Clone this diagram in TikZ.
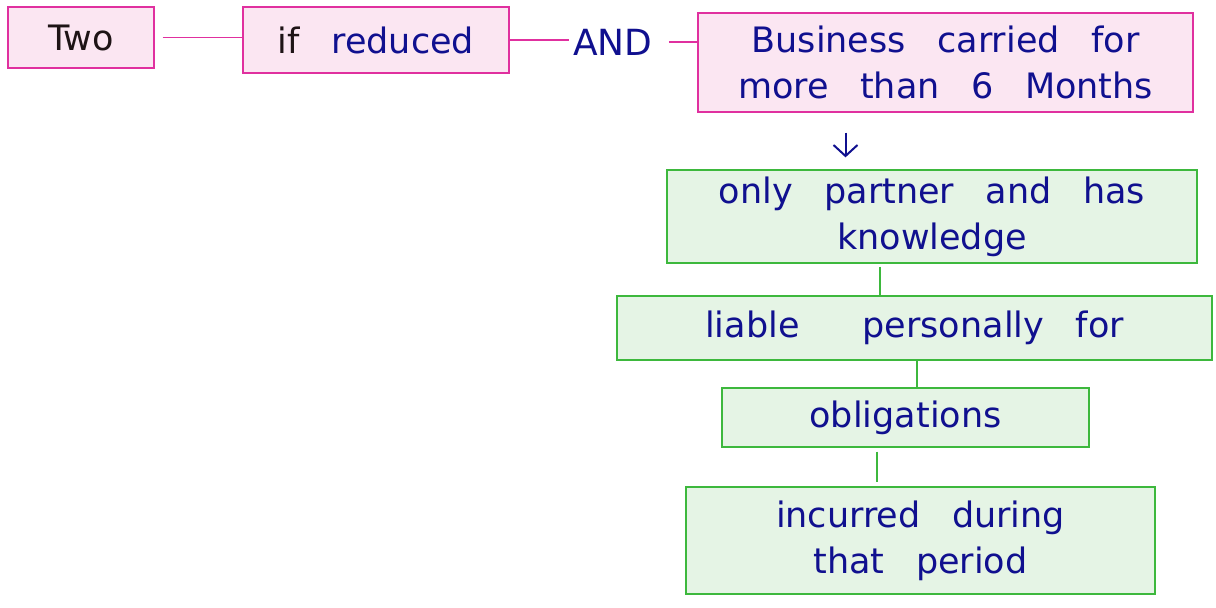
\documentclass[tikz,border=0pt]{standalone}
\usepackage{fontspec}
\setmainfont{DejaVu Sans}
\usepackage{tikz}
\usetikzlibrary{arrows.meta}
\definecolor{pinkfill}{HTML}{FBE6F2}
\definecolor{pinkline}{HTML}{E0309F}
\definecolor{greenfill}{HTML}{E5F4E5}
\definecolor{greenline}{HTML}{3DB83D}
\definecolor{inkblue}{HTML}{10108F}
\definecolor{inkdark}{HTML}{1E1416}
\newcommand\wsp{\hspace{0.9em}}
\begin{document}
\begin{tikzpicture}[x=1pt,y=-1pt,
  hand/.style={text=inkblue,font=\fontsize{35}{46}\selectfont,align=center,inner sep=0pt},
  pbox/.style n args={2}{hand,draw=pinkline,fill=pinkfill,line width=1.3pt,minimum width=#1,minimum height=#2},
  gbox/.style n args={2}{hand,draw=greenline,fill=greenfill,line width=1.3pt,minimum width=#1,minimum height=#2},
  pline/.style={draw=pinkline,line width=1.3pt},
  gline/.style={draw=greenline,line width=1.3pt}]
\useasboundingbox (0,0) rectangle (1216,608);
% top row
\node[pbox={146}{61}] (two) at (81,37.5) {\color{inkdark}Two};
\node[pbox={266}{66}] (ifred) at (376,40) {{\color{inkdark}if}\wsp reduced};
\node[hand,font=\fontsize{36}{40}\selectfont] (and) at (613,42) {AND};
\node[pbox={495}{99}] (biz) at (945.5,62.5) {Business\wsp carried\wsp for\\more\wsp than\wsp 6\wsp Months};
% green chain
\node[gbox={530}{93}] (only) at (932,216.5) {only\wsp partner\wsp and\wsp has\\knowledge};
\node[gbox={595}{64}] (liable) at (914.5,328) {liable\wsp\wsp personally\wsp for};
\node[gbox={367}{59}] (oblig) at (905.5,417.5) {obligations};
\node[gbox={469}{107}] (incur) at (920.5,540.5) {incurred\wsp during\\that\wsp period};
% connectors
\draw[pline,shorten <=8pt] (two.east) -- (two.east -| ifred.west);
\draw[pline,shorten >=4pt] (ifred.east) -- (ifred.east -| and.west);
\draw[pline,shorten <=16pt] (and.east) -- (and.east -| biz.west);
\draw[inkblue,line width=2pt,-{Straight Barb[length=11pt,width=24pt]},shorten <=20pt,shorten >=12pt]
  ([xshift=-100pt]biz.south) -- ([xshift=-100pt]biz.south |- only.north);
\draw[gline,shorten <=3pt] ([xshift=-52pt]only.south) -- ([xshift=-52pt]only.south |- liable.north);
\draw[gline] ([xshift=2.5pt]liable.south) -- ([xshift=2.5pt]liable.south |- oblig.north);
\draw[gline,shorten <=4pt,shorten >=4pt] ([xshift=-28.5pt]oblig.south) -- ([xshift=-28.5pt]oblig.south |- incur.north);
\end{tikzpicture}
\end{document}
